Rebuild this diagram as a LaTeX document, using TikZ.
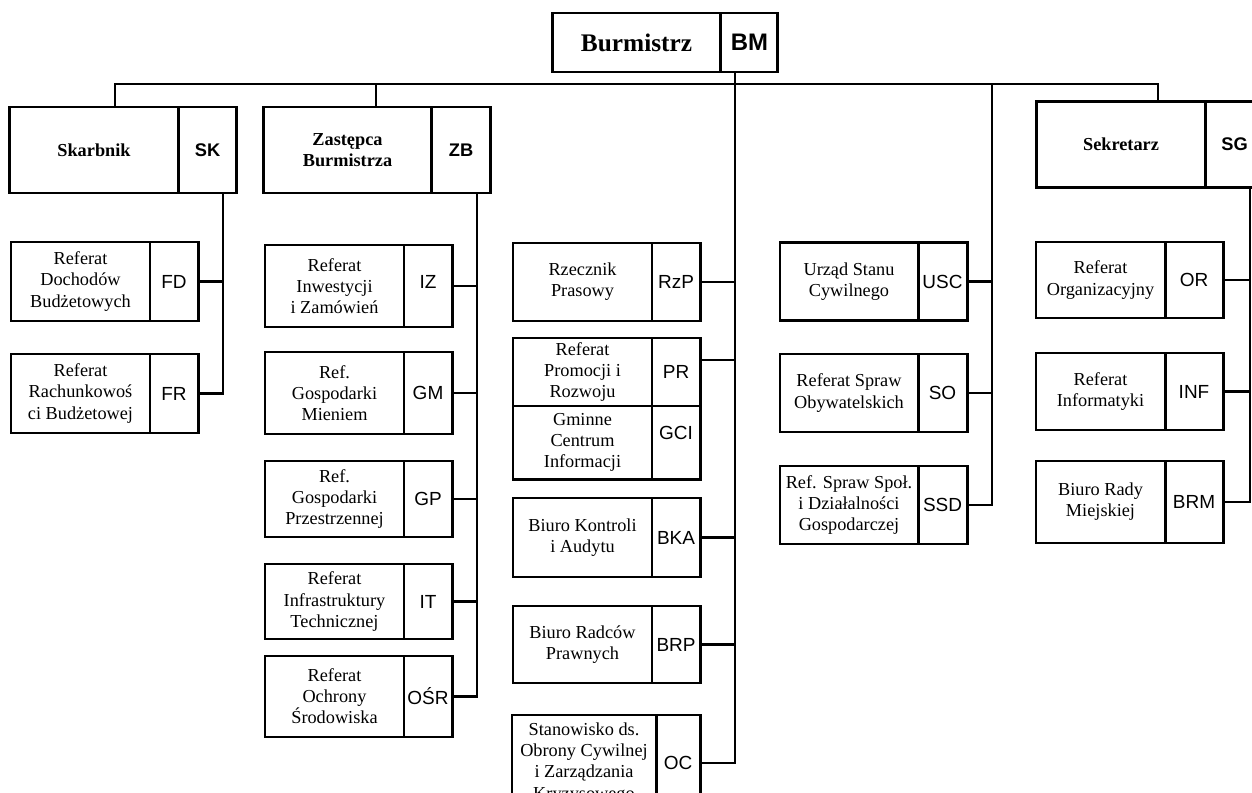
\documentclass[tikz,border=0pt]{standalone}
\usepackage{fontspec}
\setmainfont{Liberation Serif}
\setsansfont{Liberation Sans}
\usepackage{tikz}
\usetikzlibrary{positioning}

\newcommand\deptfont{\fontsize{13pt}{15pt}\selectfont}
\newcommand\abbrfont{\sffamily\fontsize{13.5pt}{15pt}\selectfont}
\newcommand\headfont{\bfseries\fontsize{13pt}{15pt}\selectfont}
\newcommand\headabbrfont{\sffamily\bfseries\fontsize{13pt}{15pt}\selectfont}

\tikzset{
  cell/.style={draw, line width=2.1pt, outer sep=0pt, inner xsep=0.5pt, inner ysep=1pt, align=center, minimum height=1.975cm},
  dept/.style={cell, font=\deptfont, minimum width=#1},
  abbr/.style={cell, font=\abbrfont, minimum width=#1},
  head/.style={cell, font=\headfont, minimum width=4.22cm, minimum height=2.15cm},
  headabbr/.style={cell, font=\headabbrfont, minimum width=1.46cm, minimum height=2.15cm},
  wire/.style={line width=1.7pt}
}

\begin{document}
\begin{tikzpicture}[x=0.025cm, y=-0.025cm]
\useasboundingbox (0,0) rectangle (1252,792);
\clip (0,0) rectangle (1252,792);

% top
\node[cell, font=\bfseries\fontsize{18pt}{20pt}\selectfont, minimum width=4.22cm, minimum height=1.475cm] (bm) at (636.5,42.5) {Burmistrz};
\node[cell, font=\sffamily\bfseries\fontsize{17pt}{19pt}\selectfont, minimum width=1.425cm, minimum height=1.475cm, right=0pt of bm] (bmc) {BM};

% heads
\node[head] (sk) at (94,150) {Skarbnik};
\node[headabbr, right=0pt of sk] (skc) {SK};
\node[head] (zb) at (347.5,150) {Zastępca\\Burmistrza};
\node[headabbr, right=0pt of zb] (zbc) {ZB};
\node[head] (sg) at (1121,144.5) {Sekretarz};
\node[headabbr, right=0pt of sg] (sgc) {SG};

% Skarbnik
\node[dept=3.475cm] (fd) at (80.5,281.5) {Referat\\Dochodów\\Budżetowych};
\node[abbr=1.2cm, right=0pt of fd] (fdc) {FD};
\node[dept=3.475cm] (fr) at (80.5,393.5) {Referat\\Rachunkowoś\\ci Budżetowej};
\node[abbr=1.2cm, right=0pt of fr] (frc) {FR};

% Zastepca
\node[dept=3.475cm, minimum height=2.05cm] (iz) at (334.5,286) {Referat\\Inwestycji\\i Zamówień};
\node[abbr=1.2cm, minimum height=2.05cm, right=0pt of iz] (izc) {\raisebox{6pt}{IZ}};
\node[dept=3.475cm, minimum height=2.05cm] (gm) at (334.5,393) {Ref.\\Gospodarki\\Mieniem};
\node[abbr=1.2cm, minimum height=2.05cm, right=0pt of gm] (gmc) {GM};
\node[dept=3.475cm, minimum height=1.9cm] (gp) at (334.5,499) {Ref.\\Gospodarki\\Przestrzennej};
\node[abbr=1.2cm, minimum height=1.9cm, right=0pt of gp] (gpc) {GP};
\node[dept=3.475cm, minimum height=1.875cm] (it) at (334.5,601.5) {Referat\\Infrastruktury\\Technicznej};
\node[abbr=1.2cm, minimum height=1.875cm, right=0pt of it] (itc) {IT};
\node[dept=3.475cm, minimum height=2.025cm] (osr) at (334.5,696.5) {Referat\\Ochrony\\Środowiska};
\node[abbr=1.2cm, minimum height=2.025cm, right=0pt of osr] (osrc) {OŚR};

% Burmistrz
\node[dept=3.475cm, minimum height=1.95cm] (rzp) at (582.5,282) {Rzecznik\\Prasowy};
\node[abbr=1.2cm, minimum height=1.95cm, right=0pt of rzp] (rzpc) {RzP};
\node[dept=3.475cm, minimum height=1.7cm] (pr) at (582.5,372) {Referat\\Promocji i\\Rozwoju};
\node[abbr=1.2cm, minimum height=1.7cm, right=0pt of pr] (prc) {PR};
\node[dept=3.475cm, minimum height=1.825cm, below=0pt of pr] (gci) {Gminne\\Centrum\\Informacji};
\node[abbr=1.2cm, minimum height=1.825cm, right=0pt of gci] (gcic) {\raisebox{14pt}{GCI}};
\node[dept=3.475cm] (bka) at (582.5,537.5) {Biuro Kontroli\\i Audytu};
\node[abbr=1.2cm, right=0pt of bka] (bkac) {BKA};
\node[dept=3.475cm, minimum height=1.925cm] (brp) at (582.5,644.5) {Biuro Radców\\Prawnych};
\node[abbr=1.2cm, minimum height=1.925cm, right=0pt of brp] (brpc) {BRP};
\node[dept=3.6cm, minimum height=2.4cm] (oc) at (584,763) {Stanowisko ds.\\Obrony Cywilnej\\i Zarządzania\\Kryzysowego};
\node[abbr=1.1cm, minimum height=2.4cm, right=0pt of oc] (occ) {OC};

% USC column
\node[dept=3.45cm, minimum height=1.95cm] (usc) at (849,281.5) {Urząd Stanu\\Cywilnego};
\node[abbr=1.225cm, minimum height=1.95cm, right=0pt of usc] (uscc) {USC};
\node[dept=3.45cm, minimum height=1.95cm] (so) at (849,393) {Referat Spraw\\Obywatelskich};
\node[abbr=1.225cm, minimum height=1.95cm, right=0pt of so] (soc) {SO};
\node[dept=3.45cm, minimum height=1.95cm] (ssd) at (849,505) {Ref. Spraw Społ.\\i Działalności\\Gospodarczej};
\node[abbr=1.225cm, minimum height=1.95cm, right=0pt of ssd] (ssdc) {SSD};

% Sekretarz
\node[dept=3.225cm, minimum height=1.9cm] (or) at (1100.5,280) {Referat\\Organizacyjny};
\node[abbr=1.45cm, minimum height=1.9cm, right=0pt of or] (orc) {OR};
\node[dept=3.225cm, minimum height=1.925cm] (inf) at (1100.5,391.5) {Referat\\Informatyki};
\node[abbr=1.45cm, minimum height=1.925cm, right=0pt of inf] (infc) {INF};
\node[dept=3.225cm, minimum height=2.05cm] (brm) at (1100.5,502) {Biuro Rady\\Miejskiej};
\node[abbr=1.45cm, minimum height=2.05cm, right=0pt of brm] (brmc) {BRM};

% bus
\coordinate (busl) at (115,84);
\coordinate (busr) at (1158,84);
\coordinate (zbdrop) at (376,84);
\coordinate (udrop) at (992,84);
\draw[wire] (busl |- sk.north) -- (busl) -- (busr) -- (busr |- sg.north);
\draw[wire] (zbdrop) -- (zbdrop |- zb.north);

% spines
\coordinate (skline) at (223,193);
\draw[wire] (skline) |- (frc.east);
\draw[wire] (fdc.east) -- (fdc.east -| skline);

\coordinate (zbline) at (477,193);
\draw[wire] (zbline) |- (osrc.east);
\foreach \u in {izc,gmc,gpc,itc}
  \draw[wire] (\u.east) -- (\u.east -| zbline);

\coordinate (bmline) at (735,72);
\draw[wire] (bmline) |- (occ.east);
\foreach \u in {rzpc,bkac,brpc}
  \draw[wire] (\u.east) -- (\u.east -| bmline);
\draw[wire] ([yshift=0.3cm]prc.east) -- ([yshift=0.3cm]prc.east -| bmline);

\draw[wire] (udrop) |- (ssdc.east);
\foreach \u in {uscc,soc}
  \draw[wire] (\u.east) -- (\u.east -| udrop);

\coordinate (sgline) at (1250,188);
\draw[wire] (sgline) |- (brmc.east);
\foreach \u in {orc,infc}
  \draw[wire] (\u.east) -- (\u.east -| sgline);
\end{tikzpicture}
\end{document}
